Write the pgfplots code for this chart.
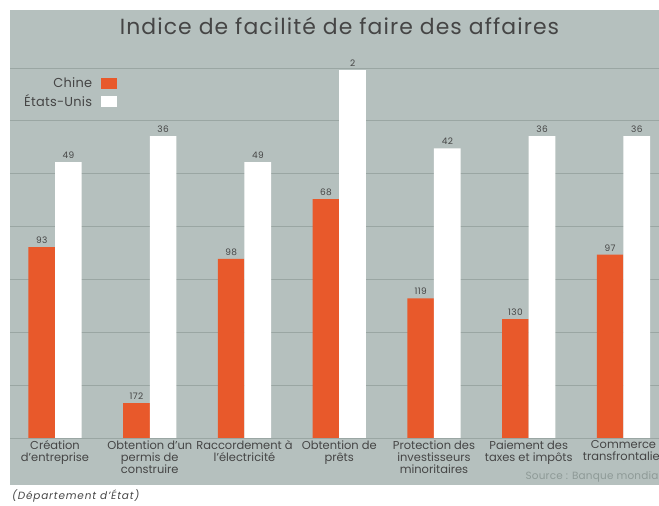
\documentclass[border=0pt]{standalone}
\usepackage{fontspec}
\setmainfont{Poppins}
\usepackage{pgfplots}
\pgfplotsset{compat=1.18}

\definecolor{bg}{HTML}{B5C0BE}
\definecolor{gridc}{HTML}{9AA6A3}
\definecolor{chine}{HTML}{E8592B}
\definecolor{txt}{HTML}{454545}
\definecolor{src}{HTML}{8E9A97}

\pgfplotsset{
  sq legend/.style={legend image code/.code={\fill[##1,draw=none] (0bp,-5.5bp) rectangle (16bp,5.5bp);}},
}

% bar heights in grid units (baseline = 0, top grid line = 7), labels are the ranks
\pgfplotstableread{
x  ch    chr  us    usr
0  3.61  93   5.22  49
1  0.66  172  5.71  36
2  3.39  98   5.22  49
3  4.52  68   6.96  2
4  2.64  119  5.48  42
5  2.25  130  5.71  36
6  3.47  97   5.71  36
}\rangs

\begin{document}
\begin{tikzpicture}[x=1bp,y=1bp]
\useasboundingbox (0,0) rectangle (659,506);
\clip (0,0) rectangle (659,506);
\fill[bg] (10,21) rectangle (659,496);
\node[font=\fontsize{22}{26}\selectfont\addfontfeature{LetterSpace=5}, text=txt] at (339.5,480) {Indice de facilité de faire des affaires};
\node[anchor=west, font=\fontsize{10.5}{13}\selectfont\addfontfeature{LetterSpace=2}, text=src] at (522,29) {Source : Banque mondiale};
\node[anchor=west, font=\itshape\fontsize{10.5}{12}\selectfont\addfontfeature{LetterSpace=8}, text=txt, inner sep=0pt] at (12,10) {(Département d’État)};

\begin{axis}[
    at={(10bp,68bp)}, anchor=south west,
    scale only axis,
    width=649bp, height=370bp,
    xmin=-0.475, xmax=6.375,
    ymin=0, ymax=7,
    clip=false,
    axis line style={draw=none},
    major tick length=0pt,
    ytick={0,...,7},
    yticklabels={},
    ymajorgrids,
    grid style={gridc, line width=0.8bp},
    xtick={0,...,6},
    xticklabels={
      Création\\d’entreprise,
      Obtention d’un\\permis de\\construire,
      Raccordement à\\l’électricité,
      Obtention de\\prêts,
      Protection des\\investisseurs\\minoritaires,
      Paiement des\\taxes et impôts,
      Commerce\\transfrontalier},
    xticklabel style={align=center, text=txt, font=\fontsize{11.5}{12.2}\selectfont},
    tick label style={yshift=1bp},
    ybar=0pt,
    bar width=26.7bp,
    nodes near coords={\pgfplotspointmeta},
    point meta=explicit symbolic,
    nodes near coords style={font=\fontsize{9}{10}\selectfont\addfontfeature{LetterSpace=4}, text=txt, yshift=0bp},
    legend plot pos=right,
    legend cell align=right,
    legend style={at={(axis cs:0.69,6.90)}, anchor=north east, draw=none, fill=none,
      font=\fontsize{13}{13}\selectfont\addfontfeature{LetterSpace=2}, text=txt, row sep=1.5bp},
]
\addplot[fill=chine, draw=none, sq legend] table[x=x, y=ch, meta=chr] {\rangs};
\addlegendentry{Chine\kern7bp\null}
\addplot[fill=white, draw=none, sq legend] table[x=x, y=us, meta=usr] {\rangs};
\addlegendentry{États-Unis\kern7bp\null}
\end{axis}
\end{tikzpicture}
\end{document}
